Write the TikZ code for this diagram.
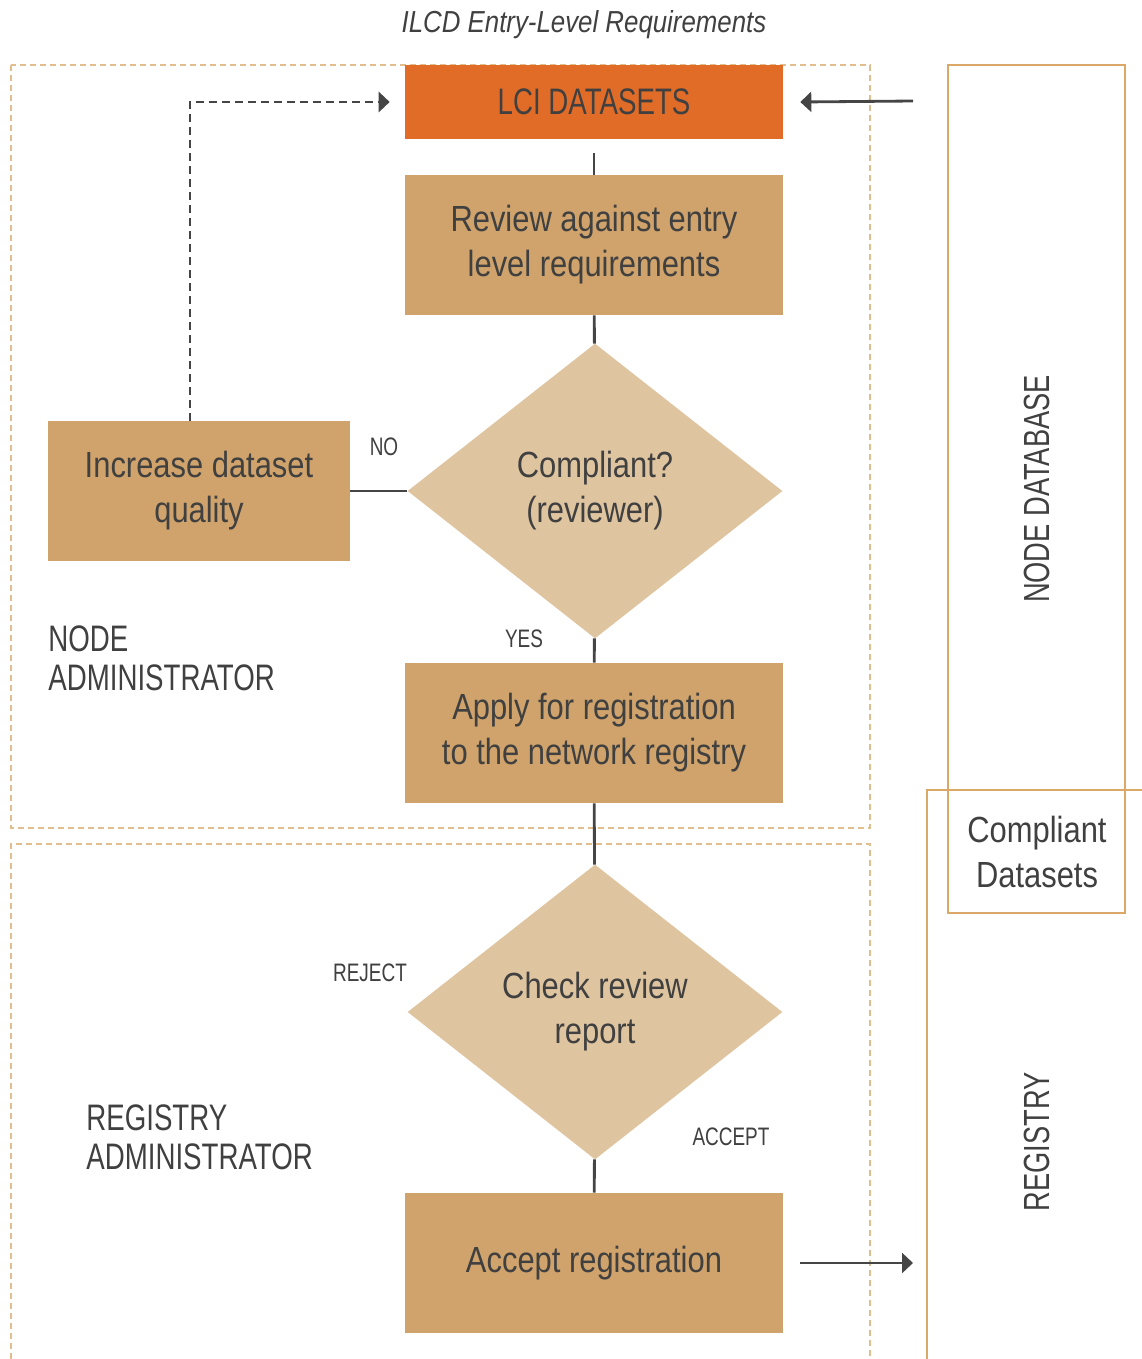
\documentclass[tikz,border=0pt]{standalone}
\usepackage{fontspec}
\setmainfont{Liberation Sans}[FakeStretch=0.85]
\newfontfamily\capsfont{Liberation Sans}[FakeStretch=0.75]
\usetikzlibrary{arrows.meta}
\usetikzlibrary{shapes.geometric}
\usetikzlibrary{positioning}
\definecolor{mtext}{HTML}{404040}
\definecolor{morange}{HTML}{E06C28}
\definecolor{mtan}{HTML}{CFA36B}
\definecolor{mlight}{HTML}{DFC4A0}
\definecolor{mdash}{HTML}{E2BE8E}
\definecolor{mframe}{HTML}{DCA868}
\definecolor{marrow}{HTML}{454545}

\begin{document}
\begin{tikzpicture}[x=0.02cm, y=-0.02cm,
    font=\fontsize{20.7}{25.6}\selectfont, text=mtext,
    stepbox/.style={rectangle, fill=mtan, minimum width=7.56cm, minimum height=2.8cm, align=center, inner sep=0pt},
    decision/.style={diamond, fill=mlight, minimum width=7.5cm, minimum height=5.9cm, align=center, inner sep=0pt},
    tag/.style={font=\capsfont\fontsize{14.4}{17}\selectfont},
    role/.style={font=\capsfont\fontsize{21}{22.4}\selectfont, align=left, anchor=west, inner sep=0pt},
    lane/.style={mdash, line width=0.8pt, dash pattern=on 0.12cm off 0.08cm},
    link/.style={marrow, line width=1.6pt},
    dashlink/.style={link, dash pattern=on 0.16cm off 0.1cm, -{Triangle[length=0.22cm, width=0.4cm]}},
    arrowlink/.style={link, -{Triangle[length=0.22cm, width=0.4cm]}}]
    \useasboundingbox (0, 0) rectangle (1142, 1359);

    % swim lanes
    \draw [lane] (11, 65) rectangle (870, 828);
    \draw [lane] (11, 1359) -- (11, 844) -- (870, 844) -- (870, 1359);
    \draw [mframe, line width=0.8pt] (948, 65) rectangle (1125, 913);
    \draw [mframe, line width=0.8pt] (1142, 790) -- (927, 790) -- (927, 1359);

    \node [font=\itshape\fontsize{17.3}{20}\selectfont] (title) at (584, 25) {ILCD Entry-Level Requirements};

    % flow
    \node [stepbox, fill=morange, minimum height=1.48cm, font=\capsfont\fontsize{21}{24}\selectfont] (lci) at (594, 102) {LCI DATASETS};
    \node [stepbox] (review) at (594, 245) {Review against entry\\level requirements};
    \node [decision] (comp) at (595, 491) {Compliant?\\(reviewer)};
    \node [stepbox, minimum width=6.04cm] (increase) at (199, 491) {Increase dataset\\quality};
    \node [stepbox] (apply) at (594, 733) {Apply for registration\\to the network registry};
    \node [decision] (check) at (595, 1012) {Check review\\report};
    \node [stepbox] (accept) at (594, 1263) {Accept registration};

    \draw [link] ([yshift=-0.28cm]lci.south) -- (review);
    \draw [link] (review) -- (comp);
    \draw [link] (comp) -- (apply);
    \draw [link] (increase) -- (comp);
    \draw [link] (apply) -- (check);
    \draw [link] (check) -- (accept);
    \draw [dashlink] ([xshift=-0.18cm]increase.north) |- ([xshift=-0.3cm]lci.west);

    \coordinate (dbin) at (913, 101);
    \coordinate (regin) at (913, 1263);
    \draw [arrowlink] (dbin) -- ([xshift=0.34cm]lci.east);
    \draw [arrowlink] ([xshift=0.34cm]accept.east) -- (regin);

    % labels
    \node [tag] (no) at (384, 447) {NO};
    \node [tag] (yes) at (524, 639) {YES};
    \node [tag] (reject) at (370, 973) {REJECT};
    \node [tag] (accepttag) at (731, 1137) {ACCEPT};

    \node [role] (nodeadmin) at (48, 658) {NODE\\ADMINISTRATOR};
    \node [role] (regadmin) at (86, 1137) {REGISTRY\\ADMINISTRATOR};

    \node [rotate=90, font=\capsfont\fontsize{20.7}{24}\selectfont] (nodedb) at (1037, 489) {NODE DATABASE};
    \node [align=center] (compliant) at (1037, 852) {Compliant\\Datasets};
    \node [rotate=90, font=\capsfont\fontsize{20.7}{24}\selectfont] (registry) at (1037, 1142) {REGISTRY};
\end{tikzpicture}
\end{document}
